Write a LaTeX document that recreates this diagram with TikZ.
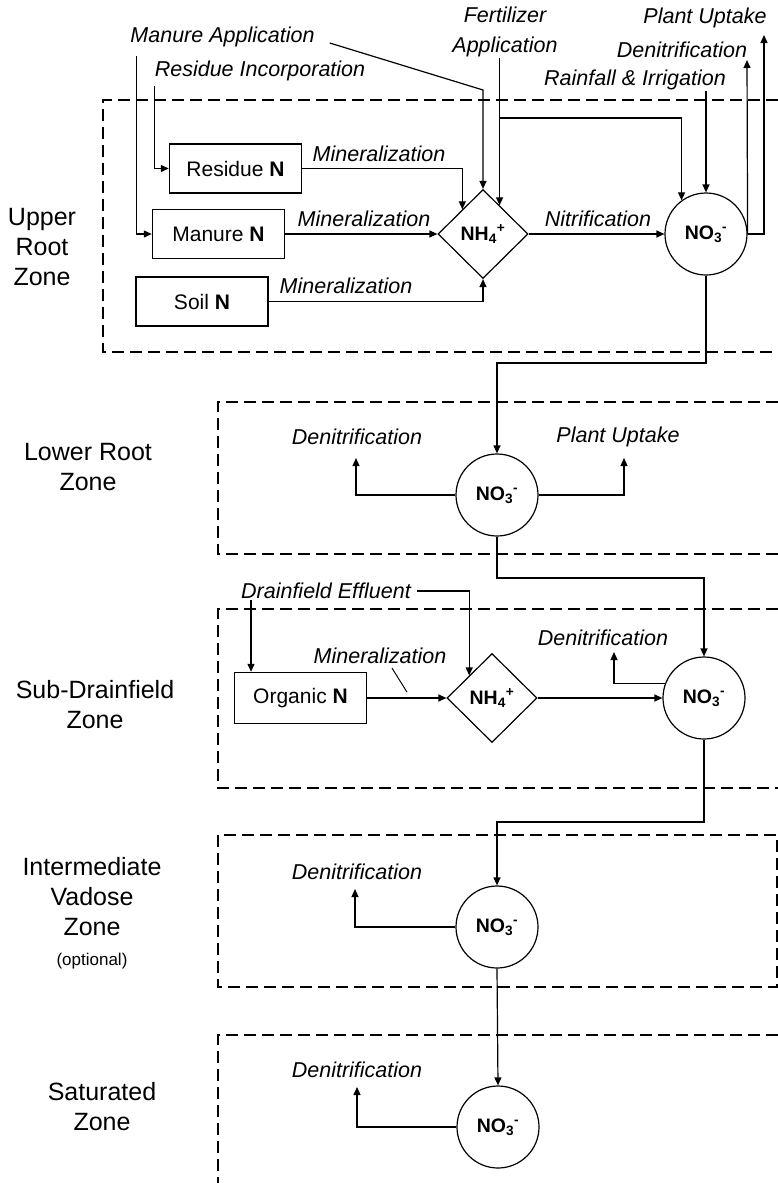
\documentclass[tikz,border=0pt]{standalone}
\usepackage{fontspec}
\setmainfont{Liberation Sans}
\usetikzlibrary{positioning, arrows.meta, shapes.geometric}

\newcommand{\ammon}{\textbf{NH}\textsubscript{\textbf{4}}\textsuperscript{\textbf{+}}}
\newcommand{\nitrat}{\textbf{NO}\textsubscript{\textbf{3}}\textsuperscript{\textbf{-}}}

\begin{document}
\begin{tikzpicture}[x=1pt, y=-1pt, font=\fontsize{21}{26}\selectfont, pool/.style={draw, line width=1.4pt, minimum width=132pt, minimum height=49pt, inner sep=0pt}, ion/.style={draw, diamond, line width=1.2pt, minimum width=90pt, minimum height=89pt, inner sep=0pt, font=\fontsize{19.5}{22}\selectfont}, nitr/.style={draw, circle, line width=1.2pt, minimum size=82pt, inner sep=0pt, font=\fontsize{19.5}{22}\selectfont}, flow/.style={font=\fontsize{21.5}{30}\selectfont\itshape, inner sep=1pt}, zone/.style={font=\fontsize{25}{30}\selectfont, align=center}, arr/.style={-{Triangle[length=8pt,width=7pt]}, line width=1.2pt}, bound/.style={dash pattern=on 12pt off 6pt, line width=1.4pt}]
\useasboundingbox (0,0) rectangle (778,1183);

\draw[bound] (778,100) -| (103,352) -- (778,352);
\draw[bound] (778,402) -| (218,554) -- (778,554);
\draw[bound] (778,609) -| (218,788) -- (778,788);
\draw[bound] (218,835) rectangle (777,987);
\draw[bound] (778,1035) -| (218,1183);

\node[zone] (upperlbl) at (42,247) {Upper\\Root\\Zone};
\node[zone] (lowerlbl) at (88,467) {Lower Root\\Zone};
\node[zone] (sublbl) at (95,705) {Sub-Drainfield\\Zone};
\node[zone] (interlbl) at (92,913) {Intermediate\\Vadose\\Zone\\{\fontsize{17}{20}\selectfont (optional)}};
\node[zone] (satlbl) at (102,1107) {Saturated\\Zone};

\node[pool] (residue) at (235.5,168.5) {Residue \textbf{N}};
\node[pool] (manure) at (218.5,234) {Manure \textbf{N}};
\node[pool] (soil) at (202,301.5) {Soil \textbf{N}};
\node[ion] (nh4u) at (483,234) {\ammon};
\node[nitr] (no3u) at (706,234) {\nitrat};
\node[nitr] (no3l) at (497,495) {\nitrat};
\node[pool, minimum height=51pt] (organic) at (300.5,698) {Organic \textbf{N}};
\node[ion] (nh4s) at (492,698) {\ammon};
\node[nitr] (no3s) at (704,698) {\nitrat};
\node[nitr] (no3i) at (497,927) {\nitrat};
\node[nitr] (no3t) at (498,1127) {\nitrat};

\node[flow] (manapp) at (222.5,37) {Manure Application};
\node[flow] (resinc) at (260,71) {Residue Incorporation};
\node[flow, align=center] (fert) at (505,32) {Fertilizer\\Application};
\node[flow] (uptop) at (705,18) {Plant Uptake};
\node[flow] (dentop) at (682,50) {Denitrification};
\node[flow] (rain) at (635,80) {Rainfall \& Irrigation};
\node[flow] (minres) at (379,154) {Mineralization};
\node[flow] (minman) at (364,219) {Mineralization};
\node[flow] (minsoil) at (346,286) {Mineralization};
\node[flow] (nitrif) at (598,219) {Nitrification};
\node[flow] (denlow) at (357,437) {Denitrification};
\node[flow] (uptlow) at (618,437) {Plant Uptake};
\node[flow] (effl) at (326,591) {Drainfield Effluent};
\node[flow] (minsub) at (380,656) {Mineralization};
\node[flow] (densub) at (603,638) {Denitrification};
\node[flow] (denint) at (357,872) {Denitrification};
\node[flow] (densat) at (357,1070) {Denitrification};

\coordinate (mbend) at (0,90);
\coordinate (fsplit) at (0,118);
\coordinate (dupend) at (747,60);
\coordinate (uupend) at (764,35);
\coordinate (drop1) at (0,363);
\coordinate (denlend) at (356,458);
\coordinate (uplend) at (624,458);
\coordinate (drop2) at (0,578);
\coordinate (effdrop) at (251,600);
\coordinate (densend) at (614,652);
\coordinate (drop3) at (0,822);
\coordinate (deniend) at (355,889);
\coordinate (densatend) at (357,1087);

\draw[arr] ([xshift=14pt,yshift=-6pt]manapp.east) -- (nh4u.north |- mbend) -- (nh4u.north);
\draw[arr] ([xshift=7pt,yshift=-8pt]manapp.south west) |- (manure.west);
\draw[arr] ([xshift=1pt,yshift=-4pt]resinc.south west) |- (residue.west);
\draw[arr] (residue.east) -| (nh4u.130);
\draw[arr] (manure.east) -- (nh4u.west);
\draw[arr] (soil.east) -| (nh4u.south);
\draw[arr] (nh4u.60 |- fert.south) -- (nh4u.60);
\draw[arr] (nh4u.60 |- fsplit) -| (no3u.126);
\draw[arr] (rain.south -| no3u.north) -- (no3u.north);
\draw[arr] (nh4u.east) -- (no3u.west);
\draw[arr] (no3u.east) -- (dupend);
\draw[arr] (no3u.east) -| (uupend);
\draw[arr] (no3u.south) |- (drop1 -| no3l.north) -- (no3l.north);

\draw[arr] (no3l.west) -| (denlend);
\draw[arr] (no3l.east) -| (uplend);
\draw[arr] (no3l.south) |- (drop2 -| no3s.north) -- (no3s.north);

\draw[arr] (effdrop) -- (effdrop |- organic.north);
\draw[arr] ([xshift=5pt]effl.east) -| (nh4s.north west);
\draw[line width=1pt] ([xshift=12pt,yshift=-3pt]minsub.south) -- ++(15,24);
\draw[arr] (organic.east) -- (nh4s.west);
\draw[arr] (nh4s.east) -- (no3s.west);
\draw[arr] (no3s.159) -| (densend);
\draw[arr] (no3s.south) |- (drop3 -| no3i.north) -- (no3i.north);

\draw[arr] (no3i.west) -| (deniend);
\draw[arr] (no3i.south) -- (no3t.north);
\draw[arr] (no3t.west) -| (densatend);
\end{tikzpicture}
\end{document}
